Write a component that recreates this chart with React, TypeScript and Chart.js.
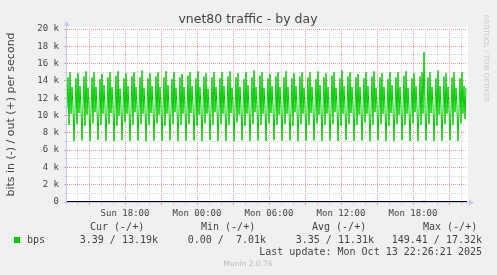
import { useEffect, useRef } from "react";
import { Chart, registerables } from "chart.js";

Chart.register(...registerables);

// ---- data ----
const startMinute = 790; // Sun 13:10 (minutes since Sun 00:00)
const stepMinutes = 5;
const endMinute = 2790; // Mon 22:30

const xTickMinutes = [1080, 1440, 1800, 2160, 2520];
const xTickLabels = ["Sun 18:00", "Mon 00:00", "Mon 06:00", "Mon 12:00", "Mon 18:00"];

const yTickValues = [0, 2000, 4000, 6000, 8000, 10000, 12000, 14000, 16000, 18000, 20000];
const yTickLabels = ["0", "2 k", "4 k", "6 k", "8 k", "10 k", "12 k", "14 k", "16 k", "18 k", "20 k"];

// out (+) traffic, kbit/s, one value per 5 minutes
const outKbps = [
  10.8, 14.4, 8.9, 15.0, 10.2, 13.3, 10.8, 7.05,
  10.7, 14.3, 9.0, 14.9, 10.3, 13.4, 10.7, 7.12,
  10.9, 14.5, 8.8, 15.1, 10.1, 13.2, 10.9, 7.03,
  10.6, 14.4, 9.1, 15.0, 10.4, 13.3, 10.6, 7.2,
  10.8, 14.2, 8.9, 14.8, 10.2, 13.5, 10.8, 7.08,
  10.7, 14.4, 9.0, 15.0, 10.3, 13.3, 10.7, 7.04,
  10.9, 14.6, 8.8, 15.1, 10.0, 13.1, 10.9, 7.15,
  10.8, 14.3, 9.2, 14.9, 10.2, 13.4, 10.6, 7.06,
  10.6, 14.5, 8.9, 15.0, 10.4, 13.3, 10.8, 7.1,
  10.8, 14.4, 9.0, 15.2, 10.2, 13.2, 10.7, 7.02,
  10.7, 14.3, 8.9, 14.9, 10.3, 13.4, 10.9, 7.09,
  10.9, 14.5, 9.1, 15.0, 10.1, 13.3, 10.8, 7.05,
  10.8, 14.4, 8.8, 15.1, 10.2, 13.5, 10.6, 7.13,
  10.6, 14.2, 9.0, 15.0, 10.4, 13.2, 10.8, 7.04,
  10.8, 14.4, 8.9, 14.8, 10.2, 13.3, 10.7, 7.07,
  10.7, 14.6, 9.0, 15.0, 10.3, 13.4, 10.9, 7.11,
  10.9, 14.3, 8.8, 15.1, 10.1, 13.3, 10.8, 7.03,
  10.8, 14.5, 9.1, 14.9, 10.2, 13.1, 10.6, 7.16,
  10.6, 14.4, 8.9, 15.0, 10.4, 13.3, 10.8, 7.06,
  10.8, 14.3, 9.0, 15.0, 10.2, 13.4, 10.7, 7.08,
  10.7, 14.5, 8.9, 15.1, 10.3, 13.2, 10.9, 7.01,
  10.9, 14.4, 9.2, 14.9, 10.1, 13.3, 10.8, 7.12,
  10.8, 14.2, 8.8, 15.0, 10.2, 13.5, 10.6, 7.05,
  10.6, 14.4, 9.0, 15.2, 10.4, 13.3, 10.8, 7.09,
  10.8, 14.6, 8.9, 15.0, 10.2, 13.2, 10.7, 7.04,
  10.7, 14.3, 9.1, 14.8, 10.3, 13.4, 10.9, 7.14,
  10.9, 14.5, 8.9, 15.0, 10.1, 13.3, 10.8, 7.06,
  10.8, 14.4, 9.0, 15.1, 10.2, 13.3, 10.6, 7.1,
  10.6, 14.3, 8.8, 14.9, 10.4, 13.4, 10.8, 7.03,
  10.8, 14.5, 9.0, 15.0, 10.2, 13.2, 10.7, 7.07,
  10.7, 14.4, 8.9, 15.0, 10.3, 13.3, 10.9, 7.12,
  10.9, 14.2, 9.1, 15.1, 10.1, 13.5, 10.8, 7.05,
  10.8, 14.4, 8.9, 14.9, 10.2, 13.3, 10.6, 7.08,
  10.6, 14.6, 9.0, 15.0, 10.4, 13.2, 10.8, 7.04,
  10.8, 14.3, 8.8, 15.2, 10.2, 13.4, 10.7, 7.15,
  10.7, 14.5, 9.0, 15.0, 10.3, 13.3, 10.9, 7.06,
  10.9, 14.4, 8.9, 14.8, 10.1, 13.3, 10.8, 7.09,
  10.8, 14.3, 9.2, 15.0, 10.2, 13.4, 10.6, 7.03,
  10.6, 14.5, 8.9, 15.1, 10.4, 13.2, 10.8, 7.11,
  10.8, 14.4, 9.0, 14.9, 10.2, 13.3, 10.7, 7.05,
  10.7, 14.2, 8.8, 15.0, 10.3, 13.5, 10.9, 7.08,
  10.9, 14.4, 9.0, 15.0, 10.1, 13.3, 10.8, 7.13,
  10.8, 14.6, 8.9, 15.1, 10.2, 13.2, 10.6, 7.04,
  10.6, 14.3, 9.1, 14.9, 10.4, 13.4, 10.8, 7.07,
  10.8, 14.5, 8.9, 15.0, 10.2, 17.32, 10.7, 7.1,
  10.7, 14.4, 9.0, 15.0, 10.3, 13.3, 10.9, 7.05,
  10.9, 14.3, 8.8, 15.2, 10.1, 13.4, 10.8, 7.09,
  10.8, 14.5, 9.0, 14.9, 10.2, 13.3, 10.6, 7.12,
  10.6, 14.4, 8.9, 15.0, 10.4, 13.2, 10.8, 7.06,
  10.8, 14.3, 9.1, 15.0, 10.2, 13.4, 9.6, 13.19,
];

// in (-) traffic, bit/s
const inBps = [
  3.3, 3.4, 3.2, 3.5, 3.3, 3.4, 3.3, 3.2,
  3.4, 3.3, 3.3, 3.2, 3.5, 3.3, 3.4, 3.3,
  3.2, 3.3, 3.4, 3.3, 3.3, 3.2, 3.4, 3.5,
  3.3, 3.4, 3.2, 3.3, 3.4, 3.3, 3.3, 3.2,
  3.4, 3.3, 3.5, 3.3, 3.2, 3.4, 3.3, 3.3,
  3.3, 3.2, 3.3, 3.4, 3.3, 3.5, 3.3, 3.2,
  3.4, 3.3, 3.3, 3.2, 3.4, 3.3, 3.4, 3.3,
  3.2, 3.4, 3.3, 3.3, 3.5, 3.3, 3.2, 3.4,
  3.3, 3.3, 3.4, 3.2, 3.3, 3.4, 3.3, 3.3,
  3.4, 3.2, 3.3, 3.5, 3.3, 3.3, 3.4, 3.2,
  3.3, 3.4, 3.3, 0.0, 3.2, 3.3, 3.4, 3.3,
  3.2, 3.3, 3.5, 3.3, 3.4, 3.3, 3.2, 3.3,
  3.4, 3.3, 3.3, 3.2, 3.3, 3.4, 3.3, 3.5,
  3.3, 3.2, 3.4, 3.3, 3.3, 3.3, 3.4, 3.2,
  3.3, 3.4, 3.2, 3.3, 3.5, 3.3, 3.3, 3.4,
  3.2, 3.3, 3.4, 3.3, 3.3, 3.2, 3.4, 3.3,
  3.4, 3.3, 3.3, 3.5, 3.2, 3.3, 3.3, 3.4,
  3.3, 3.2, 3.4, 3.3, 3.3, 3.4, 3.2, 3.3,
  3.3, 3.4, 3.3, 3.2, 3.4, 3.3, 3.5, 3.3,
  3.2, 3.3, 3.3, 3.4, 3.3, 3.2, 3.3, 3.4,
  3.4, 3.3, 3.2, 3.3, 3.3, 3.4, 3.3, 3.3,
  3.3, 3.5, 3.3, 3.2, 3.4, 3.3, 3.3, 3.2,
  3.2, 3.3, 3.4, 3.3, 3.3, 3.3, 3.4, 3.3,
  3.4, 3.2, 3.3, 3.3, 3.5, 3.2, 3.3, 3.4,
  3.3, 3.3, 3.4, 3.2, 3.3, 3.4, 3.3, 3.3,
  3.3, 3.4, 3.2, 3.3, 3.3, 3.3, 3.5, 3.2,
  3.4, 3.3, 3.3, 3.4, 3.2, 3.3, 3.3, 3.4,
  3.2, 3.3, 3.5, 3.3, 3.4, 3.2, 3.3, 3.3,
  3.3, 3.4, 3.3, 3.2, 3.3, 3.4, 3.3, 3.3,
  3.4, 3.3, 3.2, 3.3, 3.4, 3.3, 3.2, 3.5,
  3.3, 3.2, 3.3, 3.4, 3.3, 3.3, 3.4, 3.3,
  3.2, 3.4, 3.3, 3.3, 3.2, 3.5, 3.3, 3.4,
  3.3, 3.3, 3.4, 3.2, 3.3, 3.3, 3.3, 3.2,
  3.4, 3.3, 3.3, 3.4, 3.3, 3.2, 3.4, 3.3,
  3.3, 3.2, 3.4, 3.3, 3.5, 3.3, 3.3, 3.4,
  3.2, 3.3, 3.3, 3.2, 3.4, 3.3, 3.3, 3.3,
  3.4, 3.3, 3.2, 3.4, 3.3, 3.3, 3.2, 3.4,
  3.3, 3.4, 3.3, 3.3, 3.2, 3.4, 3.3, 3.3,
  3.3, 3.2, 3.4, 3.3, 3.3, 3.5, 3.3, 3.2,
  3.4, 3.3, 3.3, 3.2, 3.4, 3.3, 3.4, 3.3,
  3.2, 3.4, 3.3, 3.3, 3.3, 3.2, 3.3, 3.4,
  3.3, 3.3, 3.2, 3.4, 3.3, 3.3, 3.4, 3.3,
  3.4, 3.2, 3.3, 3.3, 3.5, 3.3, 3.2, 3.3,
  3.3, 3.4, 3.3, 3.2, 3.3, 3.4, 3.3, 3.3,
  3.2, 3.3, 3.4, 3.3, 3.3, 149.41, 3.3, 3.2,
  3.3, 3.4, 3.3, 3.3, 3.2, 3.4, 3.3, 3.3,
  3.4, 3.3, 3.2, 3.3, 3.4, 3.3, 3.3, 3.4,
  3.3, 3.2, 3.4, 3.3, 3.3, 3.3, 3.2, 3.4,
  3.3, 3.4, 3.3, 3.2, 3.3, 3.4, 3.3, 3.3,
  3.4, 3.3, 3.3, 3.4, 3.2, 3.3, 3.4, 3.39,
];

const chartTitle = "vnet80 traffic - by day";
const yAxisTitle = "bits in (-) / out (+) per second";
const seriesName = "bps";
const legendHeaders = ["Cur (-/+)", "Min (-/+)", "Avg (-/+)", "Max (-/+)"];
const legendValues = ["3.39 / 13.19k", "0.00 /  7.01k", "3.35 / 11.31k", "149.41 / 17.32k"];
const lastUpdate = "Last update: Mon Oct 13 22:26:21 2025";
const footer = "Munin 2.0.76";
const watermark = "RRDTOOL / TOBI OETIKER";

const GREEN = "#00cc00";
const MAJOR = "#f29a9a";
const MINOR = "#d4d4d4";
const AXIS = "#c4c8f2";
const TEXT = "#444444";
const MONO = "'DejaVu Sans Mono', monospace";
const SANS = "'DejaVu Sans', sans-serif";

export default function App() {
  const ref = useRef<HTMLCanvasElement>(null);

  useEffect(() => {
    document.body.style.margin = "0";
    const canvas = ref.current;
    if (!canvas) return;

    const outPoints = outKbps.map((v, i) => ({ x: startMinute + i * stepMinutes, y: v * 1000 }));
    const inPoints = inBps.map((v, i) => ({ x: startMinute + i * stepMinutes, y: v }));

    const hourTicks: number[] = [];
    for (let m = 840; m <= 2760; m += 60) hourTicks.push(m);
    const isMajorX = (m: number) => Math.abs((m - 1080) % 180) === 0;
    const isMajorY = (v: number) => v % 2000 === 0;

    const muninPlugin = {
      id: "munin",
      beforeDraw(chart: any) {
        const c = chart.ctx;
        const a = chart.chartArea;
        c.save();
        c.fillStyle = "#f0f0f0";
        c.fillRect(0, 0, chart.width, chart.height);
        c.fillStyle = "#ffffff";
        c.fillRect(a.left, a.top - 2, a.right - a.left + 1, a.bottom - a.top + 2);
        c.restore();
      },
      afterDatasetsDraw(chart: any) {
        const c = chart.ctx;
        const a = chart.chartArea;
        const y0 = Math.floor(chart.scales.y.getPixelForValue(0));
        c.save();
        // zero rule
        c.strokeStyle = "#000000";
        c.lineWidth = 1;
        c.beginPath();
        c.moveTo(a.left, y0 - 0.5);
        c.lineTo(a.right, y0 - 0.5);
        c.stroke();
        // axes
        c.strokeStyle = AXIS;
        c.fillStyle = AXIS;
        c.beginPath();
        c.moveTo(a.left - 0.5, y0 + 3);
        c.lineTo(a.left - 0.5, a.top - 6);
        c.moveTo(a.left - 3, y0 + 0.5);
        c.lineTo(a.right + 4, y0 + 0.5);
        c.stroke();
        c.beginPath();
        c.moveTo(a.left - 3.5, a.top - 3);
        c.lineTo(a.left + 2.5, a.top - 3);
        c.lineTo(a.left - 0.5, a.top - 8);
        c.closePath();
        c.fill();
        c.beginPath();
        c.moveTo(a.right + 2, y0 - 2.5);
        c.lineTo(a.right + 2, y0 + 3.5);
        c.lineTo(a.right + 7, y0 + 0.5);
        c.closePath();
        c.fill();
        c.restore();
      },
      afterDraw(chart: any) {
        const c = chart.ctx;
        c.save();
        c.fillStyle = TEXT;
        // title
        c.font = `12.5px ${SANS}`;
        c.textAlign = "center";
        c.textBaseline = "alphabetic";
        c.fillText(chartTitle, 248, 23);
        // y axis title
        c.save();
        c.translate(14, 114.5);
        c.rotate(-Math.PI / 2);
        c.font = `11px ${SANS}`;
        c.textAlign = "center";
        c.textBaseline = "alphabetic";
        c.fillText(yAxisTitle, 0, 0);
        c.restore();
        // watermark
        c.save();
        c.translate(486, 58.5);
        c.rotate(Math.PI / 2);
        c.font = `6.8px ${SANS}`;
        c.fillStyle = "#c8c8c8";
        c.textAlign = "center";
        c.textBaseline = "middle";
        c.fillText(watermark, 0, 0);
        c.restore();
        // legend
        c.font = `10px ${MONO}`;
        c.textAlign = "left";
        c.textBaseline = "middle";
        const headerX = [90, 201, 312, 423];
        legendHeaders.forEach((h, i) => c.fillText(h, headerX[i], 227.5));
        c.fillStyle = GREEN;
        c.fillRect(14, 237, 6, 6);
        c.fillStyle = TEXT;
        c.fillText(seriesName, 27, 240);
        const valueRight = [158, 266, 374, 482];
        c.textAlign = "right";
        legendValues.forEach((v, i) => c.fillText(v, valueRight[i], 240));
        c.fillText(lastUpdate, 482, 252);
        // footer
        c.font = `7.5px ${SANS}`;
        c.fillStyle = "#bbbbbb";
        c.textAlign = "center";
        c.fillText(footer, 248, 264);
        c.restore();
      },
    };

    const chart = new Chart(canvas, {
      type: "line",
      data: {
        datasets: [
          {
            label: "out",
            data: outPoints,
            borderColor: GREEN,
            borderWidth: 1,
            pointRadius: 0,
            fill: false,
            tension: 0,
          },
          {
            label: "in",
            data: inPoints,
            borderColor: GREEN,
            borderWidth: 1,
            pointRadius: 0,
            fill: false,
            tension: 0,
          },
        ],
      },
      options: {
        animation: false,
        responsive: false,
        maintainAspectRatio: false,
        events: [],
        layout: { padding: { left: 0, right: 30, top: 29, bottom: 0 } },
        plugins: { legend: { display: false }, tooltip: { enabled: false }, title: { display: false } },
        scales: {
          x: {
            type: "linear",
            min: startMinute,
            max: endMinute,
            afterBuildTicks: (s: any) => {
              s.ticks = hourTicks.map((v) => ({ value: v }));
            },
            afterFit: (s: any) => {
              s.height = 73;
            },
            ticks: {
              autoSkip: false,
              maxRotation: 0,
              padding: 3,
              color: TEXT,
              font: { family: MONO, size: 9 },
              callback: (v: any) => {
                const k = xTickMinutes.indexOf(Number(v));
                return k >= 0 ? xTickLabels[k] : "";
              },
            },
            grid: {
              color: (ctx: any) => (ctx.tick && isMajorX(ctx.tick.value) ? MAJOR : MINOR),
              tickColor: (ctx: any) => (ctx.tick && isMajorX(ctx.tick.value) ? MAJOR : MINOR),
              lineWidth: 1,
              tickLength: 3,
              drawTicks: true,
            },
            border: { display: false, dash: [1, 1] },
          },
          y: {
            type: "linear",
            min: 0,
            max: 20000,
            afterFit: (s: any) => {
              s.width = 67;
            },
            ticks: {
              stepSize: 1000,
              autoSkip: false,
              padding: 5,
              color: TEXT,
              font: { family: MONO, size: 9 },
              callback: (v: any) => {
                const k = yTickValues.indexOf(Number(v));
                return k >= 0 ? yTickLabels[k] : "";
              },
            },
            grid: {
              color: (ctx: any) => (ctx.tick && isMajorY(ctx.tick.value) ? MAJOR : MINOR),
              tickColor: (ctx: any) => (ctx.tick && isMajorY(ctx.tick.value) ? MAJOR : MINOR),
              lineWidth: 1,
              tickLength: 3,
              drawTicks: true,
            },
            border: { display: false, dash: [1, 1] },
          },
        },
      },
      plugins: [muninPlugin],
    } as any);

    return () => chart.destroy();
  }, []);

  return (
    <div style={{ position: "absolute", left: 0, top: 0, width: 497, height: 275, background: "#f0f0f0" }}>
      <canvas ref={ref} width={497} height={275} style={{ display: "block", width: 497, height: 275 }} />
    </div>
  );
}
